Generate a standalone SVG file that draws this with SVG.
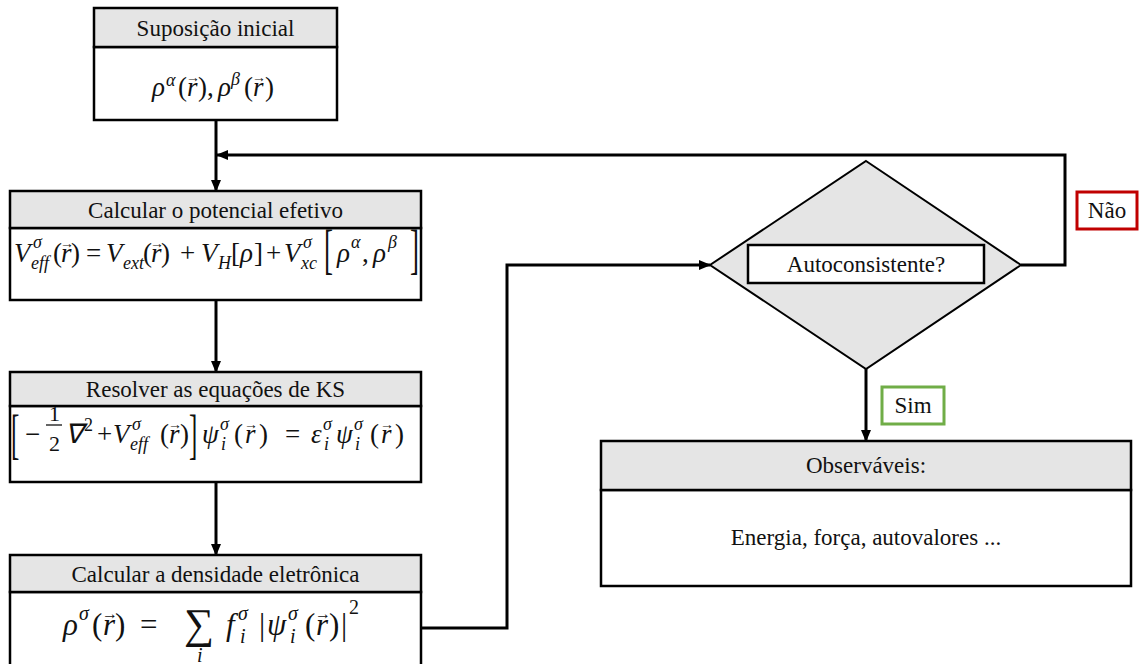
<svg xmlns="http://www.w3.org/2000/svg" width="1140" height="664" viewBox="0 0 1140 664">
<defs>
<marker id="ah" markerUnits="userSpaceOnUse" markerWidth="12" markerHeight="10" refX="11" refY="5" orient="auto">
<path d="M0,0 L12,5 L0,10 z" fill="#000"/>
</marker>
<style>
.hdr{fill:#e5e5e5;stroke:#000;stroke-width:2.5}
.bod{fill:#fff;stroke:#000;stroke-width:2.5}
.t{font-family:"Liberation Serif","Times New Roman",serif;font-size:23px;fill:#111;text-anchor:middle}
.m{font-family:"Liberation Serif","Times New Roman",serif;font-size:27px;fill:#111;font-style:italic}
.r{font-style:normal}
.s{font-size:18px}
.v{font-size:14px;font-style:normal}
.con{fill:none;stroke:#000;stroke-width:3}
</style>
</defs>
<rect width="1140" height="664" fill="#fff"/>

<g id="suposicao">
<rect class="bod" x="94" y="47" width="243" height="73"/>
<rect class="hdr" x="94" y="8" width="243" height="39"/>
<text class="t" x="215.5" y="36">Suposição inicial</text>
<text class="m" y="96"><tspan x="152">ρ</tspan><tspan class="s" x="166" y="86">α</tspan><tspan class="r" x="178" y="96">(</tspan><tspan x="187">r</tspan><tspan class="v" x="186" y="82">→</tspan><tspan class="r" x="198" y="96">)</tspan><tspan class="r" x="207">,</tspan><tspan x="218">ρ</tspan><tspan class="s" x="231" y="85">β</tspan><tspan class="r" x="244" y="96">(</tspan><tspan x="253">r</tspan><tspan class="v" x="252" y="82">→</tspan><tspan class="r" x="265" y="96">)</tspan></text>
</g>

<g id="potencial">
<rect class="bod" x="10" y="228" width="411" height="72"/>
<rect class="hdr" x="10" y="191" width="411" height="37"/>
<text class="t" x="215.5" y="218">Calcular o potencial efetivo</text>
<text class="m" y="262"><tspan x="14">V</tspan><tspan class="s" x="33" y="248">σ</tspan><tspan class="s" x="31" y="269">eff</tspan><tspan class="r" x="53" y="262">(</tspan><tspan x="61">r</tspan><tspan class="v" x="60" y="248">→</tspan><tspan class="r" x="71" y="262">)</tspan><tspan class="r" x="86">=</tspan><tspan x="106">V</tspan><tspan class="s" x="123" y="269">ext</tspan><tspan class="r" x="143" y="262">(</tspan><tspan x="151">r</tspan><tspan class="v" x="150" y="248">→</tspan><tspan class="r" x="161" y="262">)</tspan><tspan class="r" x="180">+</tspan><tspan x="201">V</tspan><tspan class="s" x="218" y="269">H</tspan><tspan class="r" x="231" y="262">[</tspan><tspan x="240">ρ</tspan><tspan class="r" x="254">]</tspan><tspan class="r" x="266">+</tspan><tspan x="284">V</tspan><tspan class="s" x="303" y="248">σ</tspan><tspan class="s" x="301" y="269">xc</tspan><tspan x="337" y="262">ρ</tspan><tspan class="s" x="351" y="248">α</tspan><tspan class="r" x="362" y="262">,</tspan><tspan x="373">ρ</tspan><tspan class="s" x="388" y="248">β</tspan></text>
<text class="m r" transform="translate(324,268) scale(1,2)">[</text>
<text class="m r" transform="translate(410,268) scale(1,2)">]</text>
</g>

<g id="kohnsham">
<rect class="bod" x="10" y="406" width="411" height="76"/>
<rect class="hdr" x="10" y="372" width="411" height="34"/>
<text class="t" x="215.5" y="397">Resolver as equações de KS</text>
<text class="m r" transform="translate(11,453) scale(1,2.2)" style="font-size:25px">[</text>
<text class="m r" transform="translate(189,453) scale(1,2.2)" style="font-size:25px">]</text>
<line x1="46" y1="425" x2="62" y2="425" stroke="#111" stroke-width="1.3"/>
<text class="m" y="443"><tspan class="r" x="25">−</tspan><tspan class="r" x="49" y="421" style="font-size:22px">1</tspan><tspan class="r" x="49" y="451" style="font-size:22px">2</tspan><tspan x="65" y="443">∇</tspan><tspan class="s r" x="84" y="431">2</tspan><tspan class="r" x="97" y="443">+</tspan><tspan x="113">V</tspan><tspan class="s" x="132" y="430">σ</tspan><tspan class="s" x="130" y="450">eff</tspan><tspan class="r" x="160" y="443">(</tspan><tspan x="169">r</tspan><tspan class="v" x="168" y="429">→</tspan><tspan class="r" x="180" y="443">)</tspan><tspan x="202">ψ</tspan><tspan class="s" x="220" y="430">σ</tspan><tspan class="s" x="221" y="450">i</tspan><tspan class="r" x="234" y="443">(</tspan><tspan x="245">r</tspan><tspan class="v" x="244" y="429">→</tspan><tspan class="r" x="259" y="443">)</tspan><tspan class="r" x="285">=</tspan><tspan x="311">ε</tspan><tspan class="s" x="323" y="430">σ</tspan><tspan class="s" x="324" y="450">i</tspan><tspan x="336" y="443">ψ</tspan><tspan class="s" x="354" y="430">σ</tspan><tspan class="s" x="355" y="450">i</tspan><tspan class="r" x="370" y="443">(</tspan><tspan x="381">r</tspan><tspan class="v" x="380" y="429">→</tspan><tspan class="r" x="395" y="443">)</tspan></text>
</g>

<g id="densidade">
<rect class="bod" x="10" y="592" width="411" height="80"/>
<rect class="hdr" x="10" y="555" width="411" height="37"/>
<text class="t" x="215.5" y="582">Calcular a densidade eletrônica</text>
<text class="m" y="635" style="font-size:31px"><tspan x="63">ρ</tspan><tspan class="s" x="79" y="620" style="font-size:20px">σ</tspan><tspan class="r" x="92" y="635">(</tspan><tspan x="103">r</tspan><tspan class="v" x="102" y="619" style="font-size:16px">→</tspan><tspan class="r" x="115" y="635">)</tspan><tspan class="r" x="140">=</tspan><tspan class="r" x="184" y="638" style="font-size:42px">∑</tspan><tspan class="s" x="197" y="662" style="font-size:20px">i</tspan><tspan x="226" y="635">f</tspan><tspan class="s" x="238" y="620" style="font-size:20px">σ</tspan><tspan class="s" x="240" y="643" style="font-size:20px">i</tspan><tspan class="r" x="259" y="635">|</tspan><tspan x="267">ψ</tspan><tspan class="s" x="288" y="620" style="font-size:20px">σ</tspan><tspan class="s" x="290" y="643" style="font-size:20px">i</tspan><tspan class="r" x="305" y="635">(</tspan><tspan x="316">r</tspan><tspan class="v" x="315" y="619" style="font-size:16px">→</tspan><tspan class="r" x="329" y="635">)</tspan><tspan class="r" x="341">|</tspan><tspan class="s r" x="349" y="614" style="font-size:20px">2</tspan></text>
</g>

<g id="autoconsistente">
<polygon points="866,161 1021,265 866,369 710,265" fill="#e5e5e5" stroke="#000" stroke-width="2"/>
<rect class="bod" x="748" y="245" width="236" height="38"/>
<text class="t" x="866" y="272">Autoconsistente?</text>
</g>

<g id="observaveis">
<rect class="bod" x="601" y="490" width="530" height="96"/>
<rect class="hdr" x="601" y="441" width="530" height="49"/>
<text class="t" x="866" y="473">Observáveis:</text>
<text class="t" x="866" y="545">Energia, força, autovalores ...</text>
</g>

<g id="label-nao">
<rect x="1077" y="192" width="60" height="37" fill="#fff" stroke="#c00000" stroke-width="3"/>
<text class="t" x="1107" y="218">Não</text>
</g>

<g id="label-sim">
<rect x="882" y="387" width="62" height="37" fill="#fff" stroke="#70ad47" stroke-width="3"/>
<text class="t" x="913" y="413">Sim</text>
</g>

<g id="connectors">
<path class="con" d="M216,120 V191" marker-end="url(#ah)"/>
<path class="con" d="M216,300 V372" marker-end="url(#ah)"/>
<path class="con" d="M216,482 V555" marker-end="url(#ah)"/>
<path class="con" d="M421,628 H507 V265 H710" marker-end="url(#ah)"/>
<path class="con" d="M1021,265 H1065 V155 H217" marker-end="url(#ah)"/>
<path class="con" d="M866,369 V441" marker-end="url(#ah)"/>
</g>
</svg>
